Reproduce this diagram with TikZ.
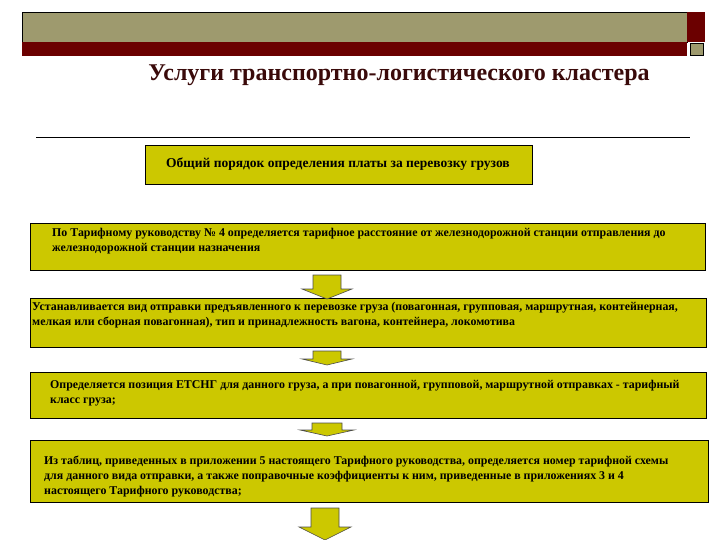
\documentclass[tikz,border=0pt]{standalone}
\usepackage{fontspec}
\setmainfont{Liberation Serif}
\definecolor{olivebar}{HTML}{9E9A6E}
\definecolor{darkred}{HTML}{6B0000}
\definecolor{boxy}{HTML}{CCC800}
\definecolor{titlec}{HTML}{3A0A0A}
\begin{document}
\begin{tikzpicture}[x=1pt,y=-1pt,
  box/.style={draw=black,fill=boxy,line width=0.8pt},
  btxt/.style={font=\bfseries\fontsize{11.9}{15}\selectfont,align=left,anchor=north west,inner sep=0pt},
  barrow/.style={draw=black!70,fill=boxy,line width=0.6pt}]
\useasboundingbox (0,0) rectangle (720,540);
% header bars
\fill[olivebar,draw=black,line width=0.5pt] (22,12) rectangle (687,42);
\fill[darkred] (22,42) rectangle (687,56);
\fill[darkred] (687,12) rectangle (705,42);
\fill[olivebar,draw=black,line width=0.5pt] (690,43) rectangle (703,55);
\node[font=\bfseries\fontsize{24}{26}\selectfont,text=titlec] (title) at (399,75) {Услуги транспортно-логистического кластера};
\draw[line width=0.8pt] (36,137) -- (690,137);
% boxes
\draw[box] (145,145) rectangle (532,184);
\node[font=\bfseries\fontsize{13.5}{15}\selectfont] (b1) at (338,164) {Общий порядок определения платы за перевозку грузов};
\draw[box] (30,223) rectangle (705,270);
\node[btxt] (b2) at (52,228) {По Тарифному руководству № 4 определяется тарифное расстояние от железнодорожной станции отправления до\\железнодорожной станции назначения};
\draw[box] (30,298) rectangle (706,347);
\node[btxt] (b3) at (32,302) {Устанавливается вид отправки предъявленного к перевозке груза (повагонная, групповая, маршрутная, контейнерная,\\мелкая или сборная повагонная), тип и принадлежность вагона, контейнера, локомотива};
\draw[box] (30,372) rectangle (706,418);
\node[btxt] (b4) at (50,380) {Определяется позиция ЕТСНГ для данного груза, а при повагонной, групповой, маршрутной отправках - тарифный\\класс груза;};
\draw[box] (30,440) rectangle (708,502);
\node[btxt] (b5) at (44,456) {Из таблиц, приведенных в приложении 5 настоящего Тарифного руководства, определяется номер тарифной схемы\\для данного вида отправки, а также поправочные коэффициенты к ним, приведенные в приложениях 3 и 4\\настоящего Тарифного руководства;};
% block arrows
\draw[barrow] (313,275) -- (341,275) -- (341,289) -- (352,289) -- (327,299) -- (302,289) -- (313,289) -- cycle;
\draw[barrow] (313,351) -- (341,351) -- (341,359) -- (352,359) -- (327,365) -- (302,359) -- (313,359) -- cycle;
\draw[barrow] (312,423) -- (342,423) -- (342,430) -- (354,430) -- (327,436) -- (300,430) -- (312,430) -- cycle;
\draw[barrow] (311,508) -- (339,508) -- (339,527) -- (351,527) -- (325,540) -- (299,527) -- (311,527) -- cycle;
\end{tikzpicture}
\end{document}
